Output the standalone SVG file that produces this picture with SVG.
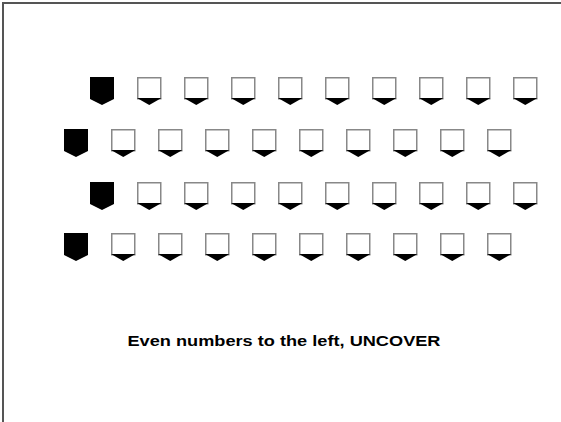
<svg xmlns="http://www.w3.org/2000/svg" width="561" height="422" viewBox="0 0 561 422">
<style>
.frame{fill:none;stroke:#555;stroke-width:2}
.box{fill:#fff;stroke:#888;stroke-width:1.5}
.tip{fill:#000}
.solid{fill:#000}
.lbl{font-family:"Liberation Sans",Arial,sans-serif;font-weight:bold;font-size:15px;fill:#000}
</style>
<defs>
<g id="w"><rect class="box" x="0.75" y="0.75" width="23" height="21"/><polygon class="tip" points="0,21 24.5,21 12.25,28"/></g>
<g id="b"><polygon class="solid" points="0,0 24,0 24,22 12,28 0,22"/></g>
</defs>
<rect width="561" height="422" fill="#fff"/>
<polyline class="frame" points="3,422 3,3 561,3"/>
<g id="row1">
<use href="#b" x="90" y="77"/>
<use href="#w" x="137" y="77"/><use href="#w" x="184" y="77"/><use href="#w" x="231" y="77"/><use href="#w" x="278" y="77"/><use href="#w" x="325" y="77"/><use href="#w" x="372" y="77"/><use href="#w" x="419" y="77"/><use href="#w" x="466" y="77"/><use href="#w" x="513" y="77"/>
</g>
<g id="row2">
<use href="#b" x="64" y="129"/>
<use href="#w" x="111" y="129"/><use href="#w" x="158" y="129"/><use href="#w" x="205" y="129"/><use href="#w" x="252" y="129"/><use href="#w" x="299" y="129"/><use href="#w" x="346" y="129"/><use href="#w" x="393" y="129"/><use href="#w" x="440" y="129"/><use href="#w" x="487" y="129"/>
</g>
<g id="row3">
<use href="#b" x="90" y="182"/>
<use href="#w" x="137" y="182"/><use href="#w" x="184" y="182"/><use href="#w" x="231" y="182"/><use href="#w" x="278" y="182"/><use href="#w" x="325" y="182"/><use href="#w" x="372" y="182"/><use href="#w" x="419" y="182"/><use href="#w" x="466" y="182"/><use href="#w" x="513" y="182"/>
</g>
<g id="row4">
<use href="#b" x="64" y="233"/>
<use href="#w" x="111" y="233"/><use href="#w" x="158" y="233"/><use href="#w" x="205" y="233"/><use href="#w" x="252" y="233"/><use href="#w" x="299" y="233"/><use href="#w" x="346" y="233"/><use href="#w" x="393" y="233"/><use href="#w" x="440" y="233"/><use href="#w" x="487" y="233"/>
</g>
<text class="lbl" x="127.5" y="345.5" textLength="313" lengthAdjust="spacingAndGlyphs">Even numbers to the left, UNCOVER</text>
</svg>
